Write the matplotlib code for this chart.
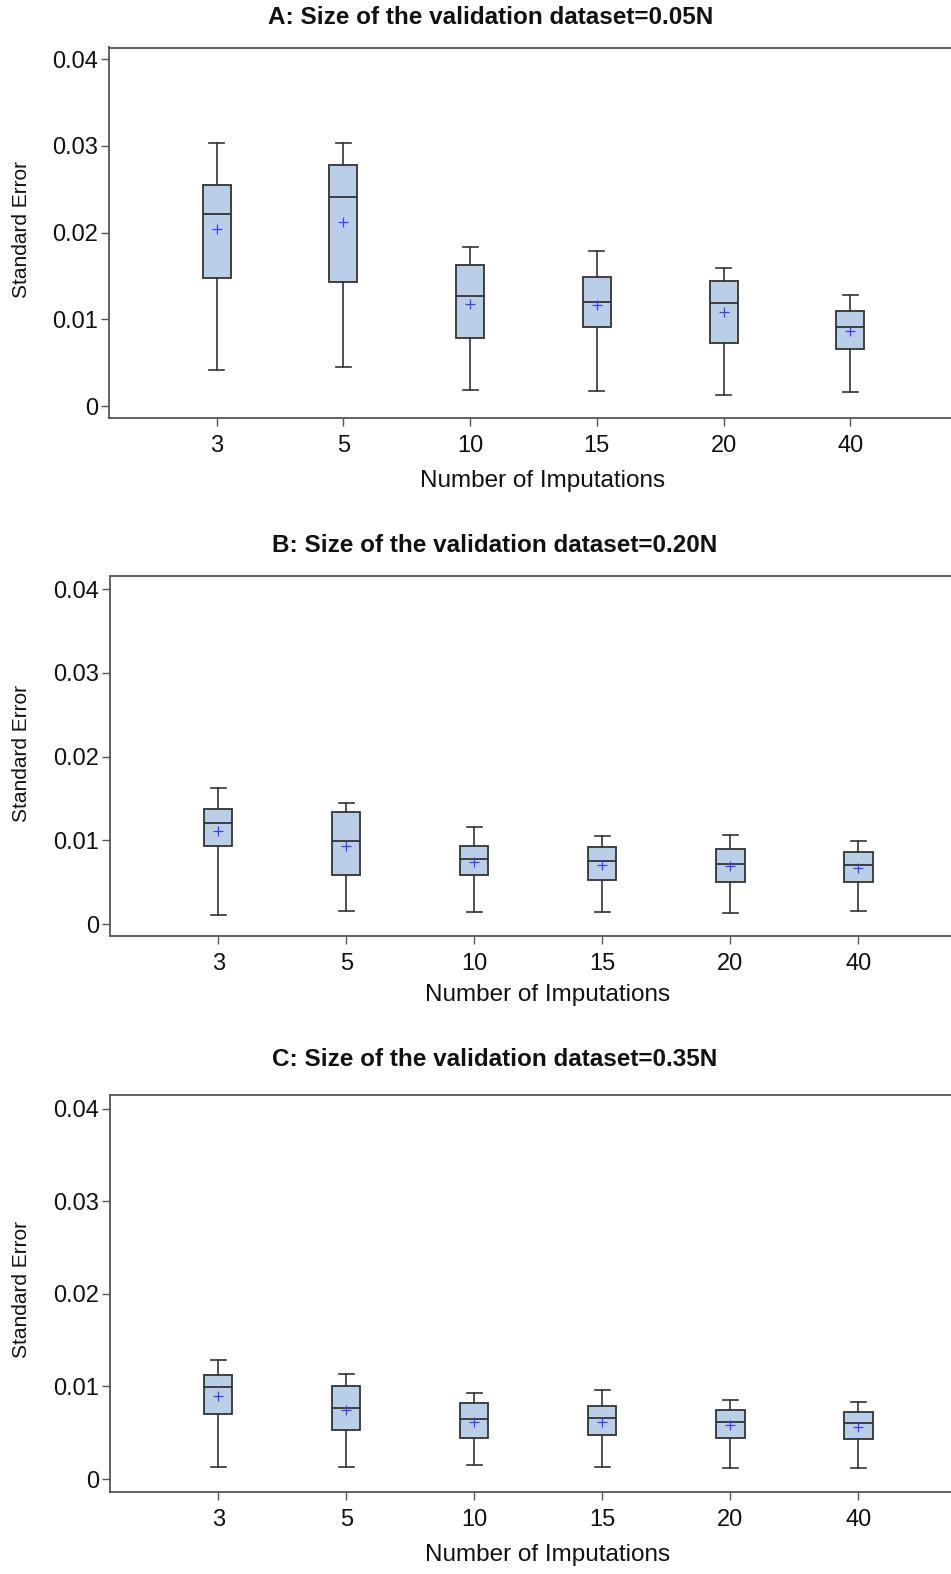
import matplotlib
matplotlib.use("Agg")
import matplotlib.pyplot as plt

plt.rcParams['font.family'] = ['Liberation Sans', 'DejaVu Sans']

categories = ['3', '5', '10', '15', '20', '40']
yticks = [0, 0.01, 0.02, 0.03, 0.04]
ytick_labels = ['0', '0.01', '0.02', '0.03', '0.04']

titles = ['A: Size of the validation dataset=0.05N',
          'B: Size of the validation dataset=0.20N',
          'C: Size of the validation dataset=0.35N']

# Panel A
a_whislo = [0.00415, 0.00446, 0.00185, 0.00173, 0.00130, 0.00165]
a_q1     = [0.01476, 0.01434, 0.00788, 0.00911, 0.00730, 0.00654]
a_med    = [0.02210, 0.02407, 0.01269, 0.01203, 0.01184, 0.00908]
a_mean   = [0.02038, 0.02126, 0.01180, 0.01169, 0.01084, 0.00861]
a_q3     = [0.02546, 0.02776, 0.01630, 0.01484, 0.01438, 0.01100]
a_whishi = [0.03030, 0.03030, 0.01830, 0.01791, 0.01592, 0.01277]

# Panel B
b_whislo = [0.00115, 0.00162, 0.00143, 0.00150, 0.00131, 0.00162]
b_q1     = [0.00938, 0.00585, 0.00588, 0.00529, 0.00505, 0.00505]
b_med    = [0.01205, 0.00998, 0.00783, 0.00752, 0.00723, 0.00708]
b_mean   = [0.01117, 0.00938, 0.00747, 0.00704, 0.00692, 0.00672]
b_q3     = [0.01372, 0.01344, 0.00931, 0.00919, 0.00902, 0.00866]
b_whishi = [0.01627, 0.01448, 0.01161, 0.01054, 0.01062, 0.00994]

# Panel C
c_whislo = [0.00133, 0.00126, 0.00151, 0.00126, 0.00115, 0.00115]
c_q1     = [0.00702, 0.00526, 0.00439, 0.00472, 0.00439, 0.00432]
c_med    = [0.00990, 0.00763, 0.00651, 0.00655, 0.00612, 0.00605]
c_mean   = [0.00896, 0.00749, 0.00619, 0.00619, 0.00580, 0.00565]
c_q3     = [0.01120, 0.01008, 0.00817, 0.00792, 0.00749, 0.00720]
c_whishi = [0.01288, 0.01131, 0.00932, 0.00958, 0.00850, 0.00832]

panels = [
    (a_whislo, a_q1, a_med, a_mean, a_q3, a_whishi),
    (b_whislo, b_q1, b_med, b_mean, b_q3, b_whishi),
    (c_whislo, c_q1, c_med, c_mean, c_q3, c_whishi),
]

W, H = 951, 1574
fig = plt.figure(figsize=(W / 100, H / 100), dpi=100)

# axes rectangles in pixels: left, top, right, bottom
rects = [(109, 47.5, 958, 418), (110.3, 576.3, 966, 936), (110.3, 1095, 966, 1492)]
ylims = [(-0.00138, 0.04135), (-0.00140, 0.04153), (-0.00140, 0.04147)]
xlims = [(0.150, 6.85), (0.156, 6.84), (0.156, 6.84)]
title_y = [18, 546, 1060]
title_x = [491, 495, 495]
xlabel_pos = [(543, 481), (548, 995), (548, 1555)]
ylabel_pos = [(22, 230), (22, 754), (22, 1290)]

box_face = '#b9cfe7'
edge = '#333333'
spine_c = '#555555'

for i, (lo, q1, med, mean, q3, hi) in enumerate(panels):
    l, t, r, b = rects[i]
    ax = fig.add_axes([l / W, 1 - b / H, (r - l) / W, (b - t) / H])
    stats = []
    for k in range(len(categories)):
        stats.append(dict(whislo=lo[k], q1=q1[k], med=med[k], mean=mean[k],
                          q3=q3[k], whishi=hi[k], fliers=[], label=categories[k]))
    positions = list(range(1, len(categories) + 1))
    ax.bxp(stats, positions=positions, widths=0.22, capwidths=0.12,
           showmeans=True, patch_artist=True, showfliers=False,
           boxprops=dict(facecolor=box_face, edgecolor=edge, linewidth=1.3),
           medianprops=dict(color=edge, linewidth=1.3),
           whiskerprops=dict(color=edge, linewidth=1.2),
           capprops=dict(color=edge, linewidth=1.2),
           meanprops=dict(marker='+', markeredgecolor='#3c3cff',
                          markerfacecolor='#3c3cff', markersize=6.5,
                          markeredgewidth=0.9))
    ax.set_xlim(*xlims[i])
    ax.set_ylim(*ylims[i])
    ax.set_yticks(yticks)
    ax.set_yticklabels(ytick_labels)
    ax.set_xticks(positions)
    ax.set_xticklabels(categories)
    ax.tick_params(axis='both', length=6, width=1.0, color=spine_c,
                   labelsize=17, labelcolor='#111111')
    ax.tick_params(axis='x', pad=6)
    ax.tick_params(axis='y', pad=2)
    for s in ax.spines.values():
        s.set_color(spine_c)
        s.set_linewidth(1.3)

    fig.text(title_x[i] / W, 1 - title_y[i] / H, titles[i], ha='center',
             va='center', fontsize=17.5, fontweight='bold', color='#111111')
    fig.text(xlabel_pos[i][0] / W, 1 - xlabel_pos[i][1] / H,
             'Number of Imputations', ha='center', va='center',
             fontsize=17.5, color='#111111')
    fig.text(ylabel_pos[i][0] / W, 1 - ylabel_pos[i][1] / H,
             'Standard Error', ha='center', va='center', rotation=90,
             fontsize=15, color='#111111')

fig.savefig('out.png', dpi=100, facecolor='white')
